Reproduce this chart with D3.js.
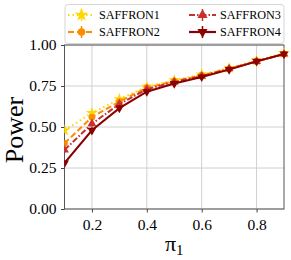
<!DOCTYPE html>
<html>
<head>
<meta charset="utf-8">
<script src="https://cdn.jsdelivr.net/npm/d3@7"></script>
<style>
body { margin: 0; background: #fff; }
svg text { font-family: "Liberation Serif", "Times New Roman", Times, serif; }
</style>
</head>
<body>
<svg id="chart"></svg>
<script>
var width = 291, height = 260;
var margin = ({top: 45, right: 7, bottom: 51, left: 64.5});

var pi1 = [0.1, 0.2, 0.3, 0.4, 0.5, 0.6, 0.7, 0.8, 0.9];
var saffron1 = [0.48, 0.585, 0.67, 0.745, 0.785, 0.82, 0.86, 0.905, 0.95];
var saffron2 = [0.40, 0.56, 0.655, 0.74, 0.78, 0.815, 0.855, 0.90, 0.945];
var saffron3 = [0.36, 0.52, 0.64, 0.73, 0.775, 0.81, 0.855, 0.90, 0.945];
var saffron4 = [0.28, 0.48, 0.615, 0.715, 0.765, 0.805, 0.85, 0.90, 0.945];
var seriesNames = ["SAFFRON1", "SAFFRON2", "SAFFRON3", "SAFFRON4"];
var xTicks = [0.2, 0.4, 0.6, 0.8];
var yTicks = [0.00, 0.25, 0.50, 0.75, 1.00];

var styles = [
  {color: "#ffd700", dash: "1.5,3", symbol: d3.symbolStar, size: 45},
  {color: "#ff8c00", dash: "6,3", symbol: d3.symbolCircle, size: 34},
  {color: "#c8302e", dash: "6,2,1.5,2", symbol: d3.symbolTriangle, size: 34},
  {color: "#8b0000", dash: null, symbol: d3.symbolTriangle, size: 34, flip: true}
];

var allSeries = [saffron1, saffron2, saffron3, saffron4].map(function(vals, i) {
  return {name: seriesNames[i], values: vals.map(function(v, j) { return {x: pi1[j], y: v}; }), style: styles[i]};
});

var x = d3.scaleLinear().domain([0.1, 0.9]).range([margin.left, width - margin.right]);
var y = d3.scaleLinear().domain([0, 1]).range([height - margin.bottom, margin.top]);

var svg = d3.select("#chart").attr("width", width).attr("height", height);

// grid
svg.append("g").selectAll("line").data(xTicks).join("line")
  .attr("x1", d => x(d)).attr("x2", d => x(d))
  .attr("y1", y(0)).attr("y2", y(1))
  .attr("stroke", "#d0d0d0").attr("stroke-width", 1);
svg.append("g").selectAll("line").data(yTicks).join("line")
  .attr("x1", x(0.1)).attr("x2", x(0.9))
  .attr("y1", d => y(d)).attr("y2", d => y(d))
  .attr("stroke", "#d0d0d0").attr("stroke-width", 1);

// axes
var xAxis = svg.append("g")
  .attr("transform", `translate(0,${y(0)})`)
  .call(d3.axisBottom(x).tickValues(xTicks).tickFormat(d3.format(".1f")).tickSize(3.5).tickSizeOuter(0));
var yAxis = svg.append("g")
  .attr("transform", `translate(${x(0.1)},0)`)
  .call(d3.axisLeft(y).tickValues(yTicks).tickFormat(d3.format(".2f")).tickSize(3.5).tickSizeOuter(0));
[xAxis, yAxis].forEach(function(g) {
  g.attr("font-family", null).attr("font-size", null);
  g.selectAll("text").attr("font-size", 15.5).attr("fill", "#000");
  g.selectAll(".tick line").attr("stroke", "#444");
  g.select(".domain").remove();
});
xAxis.selectAll("text").attr("dy", "0.95em");
yAxis.selectAll("text").attr("dx", "-0.1em");

// frame
svg.append("rect")
  .attr("x", x(0.1)).attr("y", y(1))
  .attr("width", x(0.9) - x(0.1)).attr("height", y(0) - y(1))
  .attr("fill", "none").attr("stroke", "#555").attr("stroke-width", 1);

var line = d3.line().x(d => x(d.x)).y(d => y(d.y));

svg.append("clipPath").attr("id", "clip").append("rect")
  .attr("x", x(0.1)).attr("y", y(1) - 6)
  .attr("width", x(0.9) - x(0.1) + 8).attr("height", y(0) - y(1) + 6);

var plot = svg.append("g").attr("clip-path", "url(#clip)");

allSeries.forEach(function(s) {
  var g = plot.append("g");
  g.append("path").datum(s.values)
    .attr("fill", "none").attr("stroke", s.style.color).attr("stroke-width", 2)
    .attr("stroke-dasharray", s.style.dash).attr("d", line);
  g.selectAll("line.err").data(s.values).join("line")
    .attr("x1", d => x(d.x)).attr("x2", d => x(d.x))
    .attr("y1", d => y(d.y) - 3).attr("y2", d => y(d.y) + 3)
    .attr("stroke", s.style.color).attr("stroke-width", 1.5);
  g.selectAll("path.mark").data(s.values).join("path")
    .attr("d", d3.symbol().type(s.style.symbol).size(s.style.size))
    .attr("transform", d => `translate(${x(d.x)},${y(d.y)})` + (s.style.flip ? " rotate(180)" : ""))
    .attr("fill", s.style.color);
});

// legend
var legend = svg.append("g");
legend.append("rect")
  .attr("x", 65).attr("y", 4.5).attr("width", 219).attr("height", 39)
  .attr("rx", 3).attr("fill", "#fff").attr("stroke", "#d5d5d5");
allSeries.forEach(function(s, i) {
  var lx = i < 2 ? 68 : 189;
  var ly = i % 2 === 0 ? 15 : 32;
  var g = legend.append("g");
  g.append("line").attr("x1", lx).attr("x2", lx + 27).attr("y1", ly).attr("y2", ly)
    .attr("stroke", s.style.color).attr("stroke-width", 2.2).attr("stroke-dasharray", s.style.dash);
  g.append("line").attr("x1", lx + 13.5).attr("x2", lx + 13.5).attr("y1", ly - 6).attr("y2", ly + 6)
    .attr("stroke", s.style.color).attr("stroke-width", 1.5);
  g.append("path")
    .attr("d", d3.symbol().type(s.style.symbol).size(s.style.size * 1.3))
    .attr("transform", `translate(${lx + 13.5},${ly})` + (s.style.flip ? " rotate(180)" : ""))
    .attr("fill", s.style.color);
  g.append("text").attr("x", lx + 31).attr("y", ly).attr("dy", "0.35em")
    .attr("font-size", 12.2).attr("fill", "#000").text(s.name);
});

// axis labels
svg.append("text")
  .attr("transform", `translate(23,130) rotate(-90)`)
  .attr("text-anchor", "middle").attr("font-size", 26).text("Power");
svg.append("text")
  .attr("x", (x(0.1) + x(0.9)) / 2).attr("y", 251)
  .attr("text-anchor", "middle").attr("font-size", 22)
  .call(t => {
    t.append("tspan").text("π");
    t.append("tspan").attr("font-size", 15).attr("dy", 4).text("1");
  });
</script>
</body>
</html>
